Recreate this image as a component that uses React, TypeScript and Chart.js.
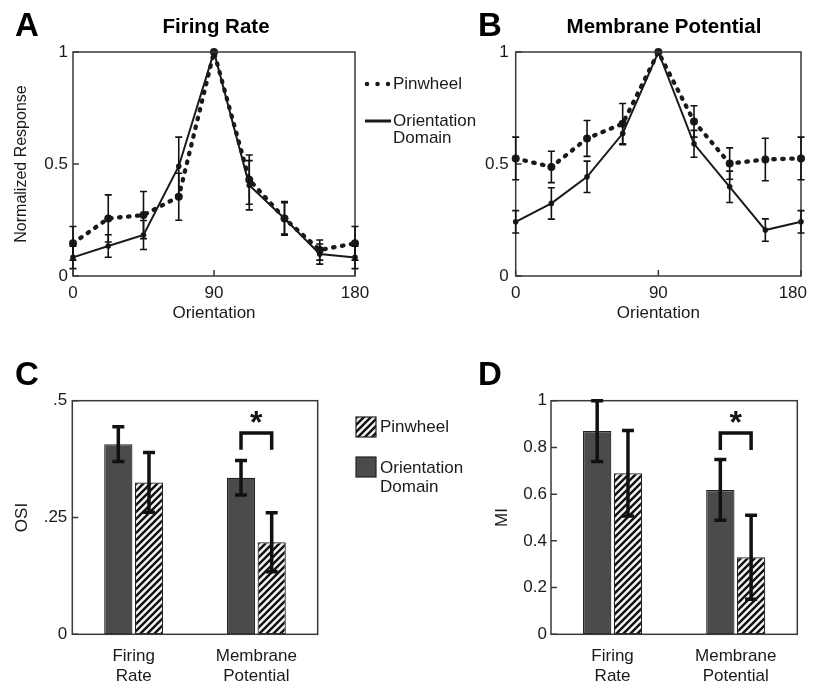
import React, { useEffect, useRef } from "react";
import { Chart, registerables } from "chart.js";
Chart.register(...registerables);

const FONT = "'Liberation Sans', Arial, Helvetica, sans-serif";
const INK = "#1a1a1a";
const DARK = "#4b4b4b";

// ---- Data ----
const orientations = [0, 22.5, 45, 67.5, 90, 112.5, 135, 157.5, 180];
const orientationTicks = [0, 90, 180];
const orientationTickLabels = ["0", "90", "180"];
const responseTicks = [0, 0.5, 1];
const responseTickLabels = ["0", "0.5", "1"];

const frPinwheel = [0.146, 0.257, 0.272, 0.354, 1.0, 0.43, 0.257, 0.116, 0.146];
const frPinwheelErr = [0.075, 0.105, 0.105, 0.105, 0, 0.11, 0.075, 0.045, 0.075];
const frDomain = [0.083, 0.134, 0.183, 0.49, 1.0, 0.405, 0.257, 0.098, 0.083];
const frDomainErr = [0.05, 0.05, 0.065, 0.13, 0, 0.11, 0.07, 0.045, 0.05];

const mpPinwheel = [0.525, 0.487, 0.614, 0.68, 1.0, 0.69, 0.502, 0.52, 0.525];
const mpPinwheelErr = [0.095, 0.07, 0.08, 0.09, 0, 0.07, 0.07, 0.095, 0.095];
const mpDomain = [0.242, 0.324, 0.443, 0.636, 1.0, 0.59, 0.398, 0.205, 0.242];
const mpDomainErr = [0.05, 0.07, 0.07, 0.05, 0, 0.06, 0.07, 0.05, 0.05];

const barCategories = [["Firing", "Rate"], ["Membrane", "Potential"]];
const osiDomain = [0.407, 0.335];
const osiDomainErr = [0.037, 0.037];
const osiPinwheel = [0.325, 0.197];
const osiPinwheelErr = [0.064, 0.063];
const osiTicks = [0, 0.25, 0.5];
const osiTickLabels = ["0", ".25", ".5"];
const osiBracket = [0.395, 0.431, 0.47]; // leg end, bar, star

const miDomain = [0.87, 0.618];
const miDomainErr = [0.13, 0.13];
const miPinwheel = [0.689, 0.33];
const miPinwheelErr = [0.183, 0.18];
const miTicks = [0, 0.2, 0.4, 0.6, 0.8, 1];
const miTickLabels = ["0", "0.2", "0.4", "0.6", "0.8", "1"];
const miBracket = [0.789, 0.862, 0.94];

const tickFont = { family: FONT, size: 17, lineHeight: 1.2 };

function makeHatch(): any {
  const s = 7;
  const c = document.createElement("canvas");
  c.width = s;
  c.height = s;
  const g = c.getContext("2d")!;
  g.fillStyle = "#f2f2f2";
  g.fillRect(0, 0, s, s);
  g.strokeStyle = "#111";
  g.lineWidth = 2.4;
  g.beginPath();
  g.moveTo(-1, s + 1);
  g.lineTo(s + 1, -1);
  g.moveTo(-1, 1);
  g.lineTo(1, -1);
  g.moveTo(s - 1, s + 1);
  g.lineTo(s + 1, s - 1);
  g.stroke();
  return g.createPattern(c, "repeat");
}

function fixAxis(size: number, horizontal: boolean) {
  return (scale: any) => {
    if (horizontal) scale.height = size;
    else scale.width = size;
    scale.paddingLeft = 0;
    scale.paddingRight = 0;
    scale.paddingTop = 0;
    scale.paddingBottom = 0;
  };
}

function setTicks(values: number[]) {
  return (scale: any) => {
    scale.ticks = values.map((v) => ({ value: v }));
  };
}

// keeps x tick labels inside the canvas (the reference pulls its last label in)
const keepLabelsInside = {
  id: "keepLabelsInside",
  beforeDraw(chart: any) {
    const xs = chart.scales.x;
    const items = xs.getLabelItems(chart.chartArea);
    const ctx = chart.ctx;
    items.forEach((it: any) => {
      ctx.save();
      ctx.font = it.font.string;
      const w = ctx.measureText(String(it.label)).width;
      ctx.restore();
      const limit = chart.width - 6;
      const x = it.options.translation[0];
      if (x + w / 2 > limit) it.options.translation[0] = limit - w / 2;
    });
  },
};

function boxPlugin(xTicks: boolean) {
  return {
    id: "boxAndTicks",
    afterDatasetsDraw(chart: any) {
      const { ctx, chartArea: a, scales } = chart;
      ctx.save();
      ctx.strokeStyle = "#3a3a3a";
      ctx.lineWidth = 1.5;
      ctx.strokeRect(a.left, a.top, a.right - a.left, a.bottom - a.top);
      ctx.beginPath();
      scales.y.ticks.forEach((t: any) => {
        const y = scales.y.getPixelForValue(t.value);
        ctx.moveTo(a.left, y);
        ctx.lineTo(a.left + 6, y);
      });
      if (xTicks) {
        scales.x.ticks.forEach((t: any) => {
          const x = scales.x.getPixelForValue(t.value);
          ctx.moveTo(x, a.bottom);
          ctx.lineTo(x, a.bottom - 6);
        });
      }
      ctx.stroke();
      ctx.restore();
    },
  };
}

function errPlugin(errs: number[][], lw: number, cap: number) {
  return {
    id: "errBars",
    afterDatasetsDraw(chart: any) {
      const { ctx } = chart;
      const ys = chart.scales.y;
      ctx.save();
      ctx.strokeStyle = "#111";
      ctx.lineWidth = lw;
      ctx.lineCap = "butt";
      chart.data.datasets.forEach((ds: any, i: number) => {
        const meta = chart.getDatasetMeta(i);
        meta.data.forEach((el: any, j: number) => {
          const e = errs[i][j];
          if (!e) return;
          const raw = ds.data[j];
          const v = typeof raw === "number" ? raw : raw.y;
          const x = el.x;
          const y1 = ys.getPixelForValue(v + e);
          const y2 = ys.getPixelForValue(v - e);
          ctx.beginPath();
          ctx.moveTo(x, y1);
          ctx.lineTo(x, y2);
          ctx.moveTo(x - cap, y1);
          ctx.lineTo(x + cap, y1);
          ctx.moveTo(x - cap, y2);
          ctx.lineTo(x + cap, y2);
          ctx.stroke();
        });
      });
      ctx.restore();
    },
  };
}

function bracketPlugin(br: number[]) {
  return {
    id: "bracket",
    afterDatasetsDraw(chart: any) {
      const { ctx } = chart;
      const ys = chart.scales.y;
      const x0 = chart.getDatasetMeta(0).data[1].x;
      const x1 = chart.getDatasetMeta(1).data[1].x;
      const yl = ys.getPixelForValue(br[0]);
      const yt = ys.getPixelForValue(br[1]);
      const ystar = ys.getPixelForValue(br[2]);
      ctx.save();
      ctx.strokeStyle = "#111";
      ctx.lineWidth = 3.5;
      ctx.lineJoin = "miter";
      ctx.beginPath();
      ctx.moveTo(x0, yl);
      ctx.lineTo(x0, yt);
      ctx.lineTo(x1, yt);
      ctx.lineTo(x1, yl);
      ctx.stroke();
      ctx.fillStyle = "#111";
      ctx.font = `bold 32px ${FONT}`;
      ctx.textAlign = "center";
      ctx.textBaseline = "alphabetic";
      ctx.fillText("*", (x0 + x1) / 2, ystar + 0.58 * 32);
      ctx.restore();
    },
  };
}

function decoPlugin(draw: (ctx: CanvasRenderingContext2D) => void) {
  return {
    id: "deco",
    afterDraw(chart: any) {
      const ctx = chart.ctx as CanvasRenderingContext2D;
      ctx.save();
      draw(ctx);
      ctx.restore();
    },
  };
}

function letter(ctx: CanvasRenderingContext2D, t: string, x: number, y: number) {
  ctx.fillStyle = "#000";
  ctx.font = `bold 33px ${FONT}`;
  ctx.textAlign = "left";
  ctx.textBaseline = "alphabetic";
  ctx.fillText(t, x, y);
}

function title(ctx: CanvasRenderingContext2D, t: string, x: number, y: number) {
  ctx.fillStyle = "#000";
  ctx.font = `bold 20.5px ${FONT}`;
  ctx.textAlign = "center";
  ctx.textBaseline = "alphabetic";
  ctx.fillText(t, x, y);
}

function legendText(ctx: CanvasRenderingContext2D, t: string, x: number, y: number) {
  ctx.fillStyle = INK;
  ctx.font = `17px ${FONT}`;
  ctx.textAlign = "left";
  ctx.textBaseline = "middle";
  ctx.fillText(t, x, y);
}

function lineConfig(o: any) {
  const mk = (vals: number[]) => orientations.map((x, i) => ({ x, y: vals[i] }));
  return {
    type: "line",
    data: {
      datasets: [
        {
          label: "Pinwheel",
          data: mk(o.pin),
          borderColor: INK,
          borderWidth: 4.3,
          borderDash: [1.5, 7.5],
          borderCapStyle: "round",
          pointRadius: 4,
          pointBackgroundColor: INK,
          pointBorderWidth: 0,
          clip: false,
          tension: 0,
        },
        {
          label: "Orientation Domain",
          data: mk(o.dom),
          borderColor: INK,
          borderWidth: 2,
          pointRadius: 2.8,
          pointBackgroundColor: INK,
          pointBorderWidth: 0,
          clip: false,
          tension: 0,
        },
      ],
    },
    options: {
      responsive: false,
      animation: false,
      events: [],
      layout: { padding: o.padding },
      plugins: { legend: { display: false }, tooltip: { enabled: false }, title: { display: false } },
      scales: {
        x: {
          type: "linear",
          min: 0,
          max: 180,
          afterBuildTicks: setTicks(orientationTicks),
          ticks: {
            callback: (_v: any, i: number) => orientationTickLabels[i],
            font: tickFont,
            color: INK,
            padding: 6.8,
            maxRotation: 0,
            autoSkip: false,
          },
          grid: { display: false, drawTicks: false },
          border: { display: false },
          title: { display: true, text: "Orientation", font: tickFont, color: INK, padding: 0 },
          afterFit: fixAxis(47.2, true),
        },
        y: {
          min: 0,
          max: 1,
          afterBuildTicks: setTicks(responseTicks),
          ticks: {
            callback: (_v: any, i: number) => responseTickLabels[i],
            font: tickFont,
            color: INK,
            padding: o.yTickPad,
          },
          grid: { display: false, drawTicks: false },
          border: { display: false },
          title: {
            display: !!o.yTitle,
            text: o.yTitle || "",
            font: { family: FONT, size: 16, lineHeight: 1.2 },
            color: INK,
            padding: 0,
          },
          afterFit: fixAxis(o.yWidth, false),
        },
      },
    },
    plugins: [keepLabelsInside, boxPlugin(true), errPlugin([o.pinErr, o.domErr], 1.6, 3.5), decoPlugin(o.deco)],
  };
}

function barConfig(o: any) {
  const hatch = makeHatch();
  return {
    type: "bar",
    data: {
      labels: barCategories,
      datasets: [
        {
          label: "Orientation Domain",
          data: o.dom,
          backgroundColor: DARK,
          borderColor: "#222",
          borderWidth: 1.2,
          borderSkipped: false,
          categoryPercentage: 0.5,
          barPercentage: 0.92,
        },
        {
          label: "Pinwheel",
          data: o.pin,
          backgroundColor: hatch,
          borderColor: "#222",
          borderWidth: 1.2,
          borderSkipped: false,
          categoryPercentage: 0.5,
          barPercentage: 0.92,
        },
      ],
    },
    options: {
      responsive: false,
      animation: false,
      events: [],
      layout: { padding: o.padding },
      plugins: { legend: { display: false }, tooltip: { enabled: false }, title: { display: false } },
      scales: {
        x: {
          ticks: { font: tickFont, color: INK, padding: 11.5, maxRotation: 0, autoSkip: false },
          grid: { display: false, drawTicks: false },
          border: { display: false },
          afterFit: fixAxis(51.7, true),
        },
        y: {
          min: 0,
          max: o.max,
          afterBuildTicks: setTicks(o.ticks),
          ticks: {
            callback: (_v: any, i: number) => o.tickLabels[i],
            font: tickFont,
            color: INK,
            padding: o.yTickPad,
          },
          grid: { display: false, drawTicks: false },
          border: { display: false },
          title: { display: true, text: o.yTitle, font: tickFont, color: INK, padding: 0 },
          afterFit: fixAxis(o.yWidth, false),
        },
      },
    },
    plugins: [
      boxPlugin(false),
      errPlugin([o.domErr, o.pinErr], 3.5, 6),
      bracketPlugin(o.bracket),
      decoPlugin((ctx) => o.deco(ctx, hatch)),
    ],
  };
}

type Geo = { left: number; top: number; w: number; h: number };

function Panel({ geo, make }: { geo: Geo; make: () => any }) {
  const ref = useRef<HTMLCanvasElement>(null);
  useEffect(() => {
    const chart = new Chart(ref.current as HTMLCanvasElement, make());
    return () => chart.destroy();
  }, []);
  return (
    <canvas
      ref={ref}
      width={geo.w}
      height={geo.h}
      style={{ position: "absolute", left: geo.left, top: geo.top, width: geo.w, height: geo.h }}
    />
  );
}

const geoA: Geo = { left: 0, top: 0, w: 480, h: 330 };
const geoB: Geo = { left: 420, top: 0, w: 393, h: 330 };
const geoC: Geo = { left: 0, top: 340, w: 480, h: 346 };
const geoD: Geo = { left: 420, top: 340, w: 393, h: 346 };

const makeA = () =>
  lineConfig({
    pin: frPinwheel,
    pinErr: frPinwheelErr,
    dom: frDomain,
    domErr: frDomainErr,
    padding: { left: 11.8, right: 125, top: 52, bottom: 6.8 },
    yWidth: 61.2,
    yTickPad: 5,
    yTitle: "Normalized Response",
    deco: (ctx: CanvasRenderingContext2D) => {
      letter(ctx, "A", 15, 36);
      title(ctx, "Firing Rate", 216, 33);
      ctx.strokeStyle = INK;
      ctx.lineWidth = 4.5;
      ctx.lineCap = "round";
      ctx.setLineDash([0.001, 10.5]);
      ctx.beginPath();
      ctx.moveTo(367, 84);
      ctx.lineTo(389, 84);
      ctx.stroke();
      ctx.setLineDash([]);
      ctx.lineCap = "butt";
      ctx.lineWidth = 3;
      ctx.beginPath();
      ctx.moveTo(365, 121);
      ctx.lineTo(391, 121);
      ctx.stroke();
      legendText(ctx, "Pinwheel", 393, 84);
      legendText(ctx, "Orientation", 393, 121);
      legendText(ctx, "Domain", 393, 138);
    },
  });

const makeB = () =>
  lineConfig({
    pin: mpPinwheel,
    pinErr: mpPinwheelErr,
    dom: mpDomain,
    domErr: mpDomainErr,
    padding: { left: 0, right: 12, top: 52, bottom: 6.8 },
    yWidth: 95.7,
    yTickPad: 7,
    yTitle: null,
    deco: (ctx: CanvasRenderingContext2D) => {
      letter(ctx, "B", 58, 36);
      title(ctx, "Membrane Potential", 244, 33);
    },
  });

const makeC = () =>
  barConfig({
    dom: osiDomain,
    domErr: osiDomainErr,
    pin: osiPinwheel,
    pinErr: osiPinwheelErr,
    max: 0.5,
    ticks: osiTicks,
    tickLabels: osiTickLabels,
    bracket: osiBracket,
    yTitle: "OSI",
    padding: { left: 11.8, right: 162.3, top: 60.7, bottom: 0 },
    yWidth: 60.5,
    yTickPad: 5,
    deco: (ctx: CanvasRenderingContext2D, hatch: any) => {
      letter(ctx, "C", 15, 45);
      ctx.fillStyle = hatch;
      ctx.fillRect(356, 77, 20, 20);
      ctx.strokeStyle = "#222";
      ctx.lineWidth = 1.2;
      ctx.strokeRect(356, 77, 20, 20);
      ctx.fillStyle = DARK;
      ctx.fillRect(356, 117, 20, 20);
      ctx.strokeRect(356, 117, 20, 20);
      legendText(ctx, "Pinwheel", 380, 87);
      legendText(ctx, "Orientation", 380, 128);
      legendText(ctx, "Domain", 380, 147);
    },
  });

const makeD = () =>
  barConfig({
    dom: miDomain,
    domErr: miDomainErr,
    pin: miPinwheel,
    pinErr: miPinwheelErr,
    max: 1,
    ticks: miTicks,
    tickLabels: miTickLabels,
    bracket: miBracket,
    yTitle: "MI",
    padding: { left: 71.8, right: 15.7, top: 60.7, bottom: 0 },
    yWidth: 59.2,
    yTickPad: 4,
    deco: (ctx: CanvasRenderingContext2D) => {
      letter(ctx, "D", 58, 45);
    },
  });

export default function App() {
  return (
    <div style={{ position: "absolute", left: 0, top: 0, width: 813, height: 686, background: "#fff", overflow: "hidden" }}>
      <Panel geo={geoA} make={makeA} />
      <Panel geo={geoB} make={makeB} />
      <Panel geo={geoC} make={makeC} />
      <Panel geo={geoD} make={makeD} />
    </div>
  );
}
